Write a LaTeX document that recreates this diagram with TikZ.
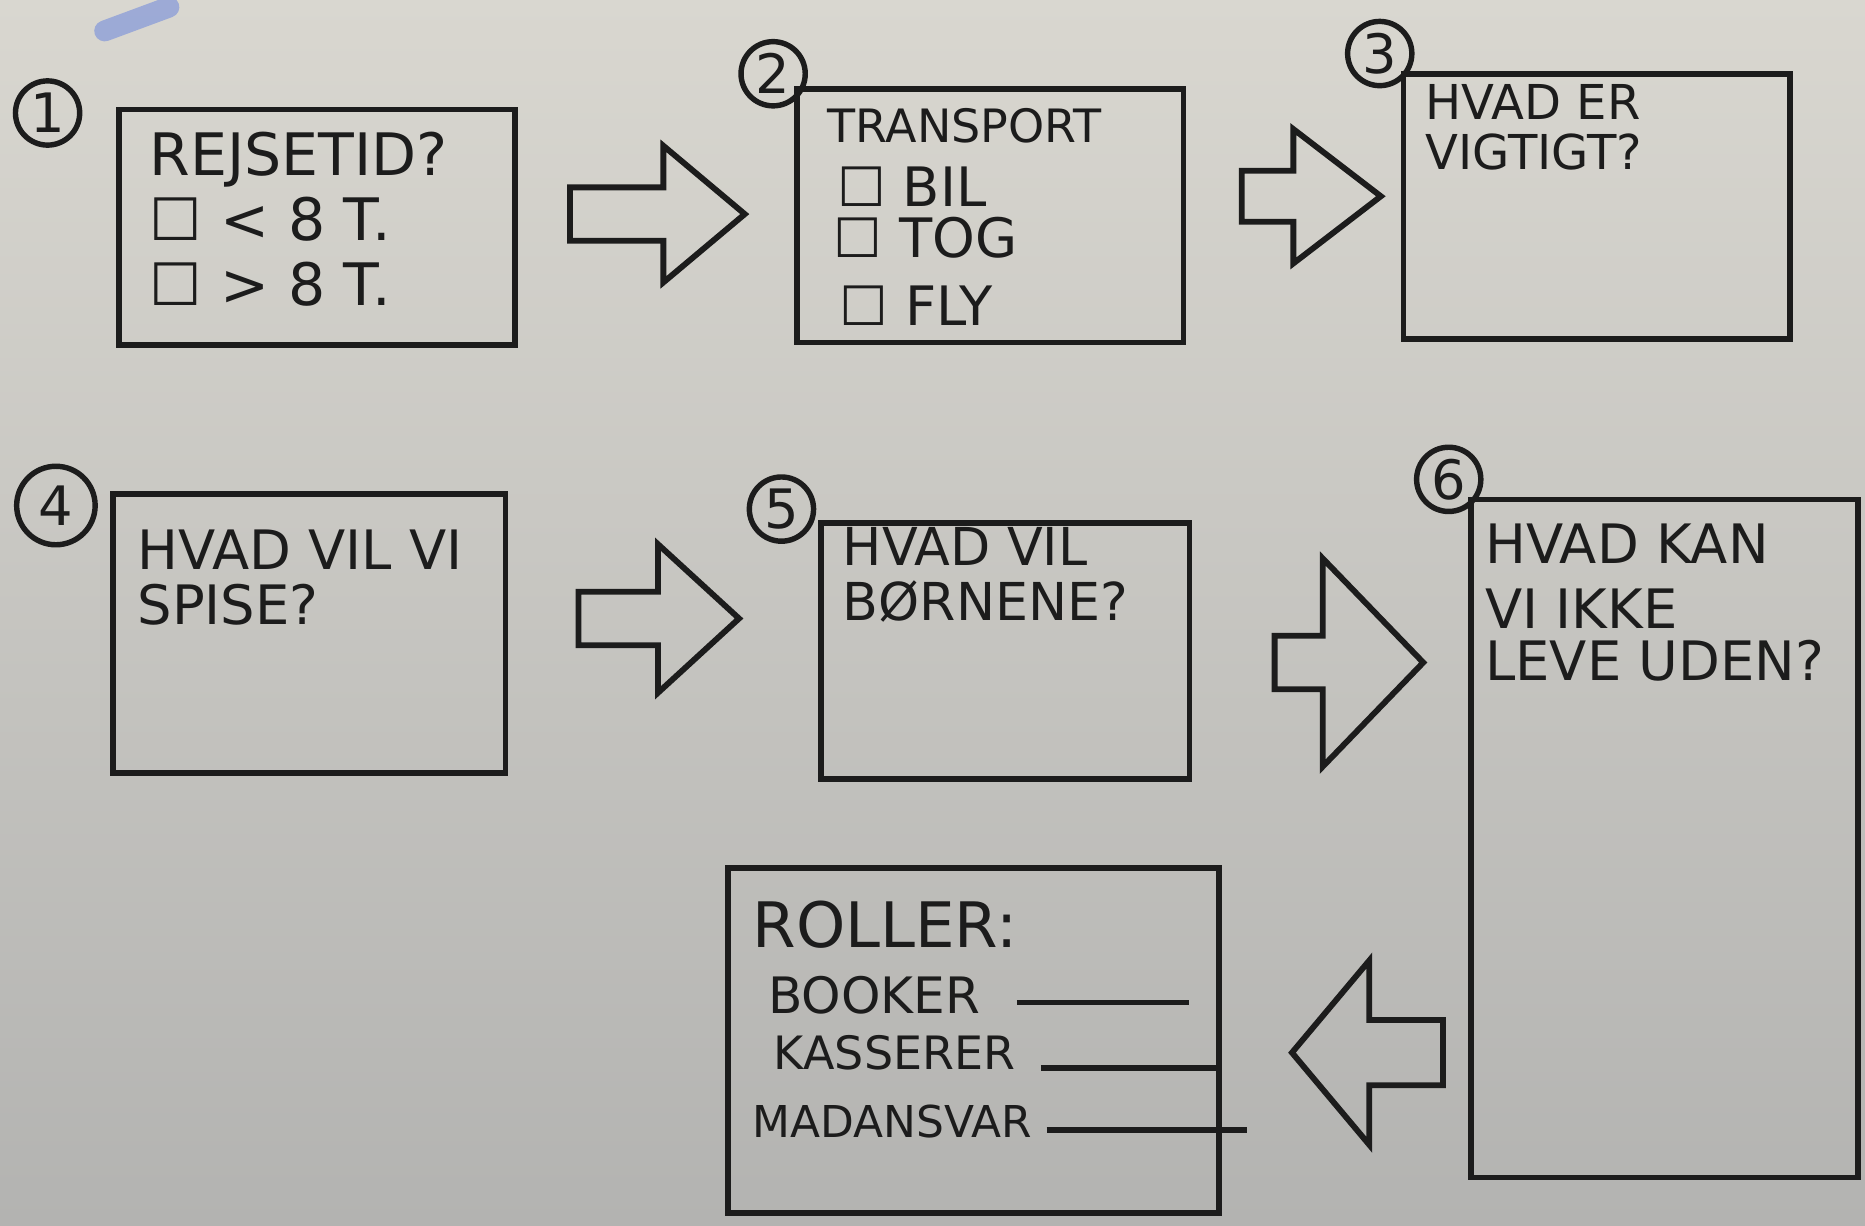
\documentclass[tikz,border=0pt]{standalone}
\usepackage{fontspec}
\setmainfont{DejaVu Sans}
\usetikzlibrary{shapes.arrows}
\definecolor{paper}{HTML}{D9D7D0}
\definecolor{paperlow}{HTML}{B3B3B1}
\definecolor{ink}{HTML}{1C1C1C}
\definecolor{marker}{HTML}{8E9FD8}

\begin{document}
\begin{tikzpicture}[
  screen/.style={rectangle,draw=ink,line width=1.4pt,inner sep=0pt},
  stepno/.style={circle,draw=ink,line width=1.3pt,inner sep=0pt,minimum size=5.4mm,text=ink,font=\fontsize{13}{13}\selectfont},
  fatarrow/.style={single arrow,draw=ink,line width=1.4pt,inner xsep=0pt,anchor=tip},
  ask/.style={anchor=north west,align=left,inner sep=0pt,text=ink},
  blank/.style={draw=ink,line width=1.3pt}]
\fill [top color=paper,bottom color=paperlow] (0,0) rectangle (15.68,-10.30);
\useasboundingbox (0,0) rectangle (15.68,-10.30);
\draw [marker,line width=5pt,line cap=round,opacity=0.8] (0.88,-0.26) -- (1.42,-0.06);
\node at ( 2.665, -1.91) (b1) [screen,minimum width=33.3mm,minimum height=19.8mm] {};
\node at ( 8.325, -1.815) (b2) [screen,minimum width=32.5mm,minimum height=21.3mm] {};
\node at (13.425, -1.735) (b3) [screen,minimum width=32.5mm,minimum height=22.3mm] {};
\node at ( 2.600, -5.325) (b4) [screen,minimum width=33mm,minimum height=23.5mm] {};
\node at ( 8.450, -5.475) (b5) [screen,minimum width=31mm,minimum height=21.5mm] {};
\node at (13.995, -7.050) (b6) [screen,minimum width=32.5mm,minimum height=57mm] {};
\node at ( 8.185, -8.750) (b7) [screen,minimum width=41.3mm,minimum height=29mm] {};
\node at ( 0.40, -0.95) (n1) [stepno] {1};
\node at ( 6.50, -0.62) (n2) [stepno] {2};
\node at (11.60, -0.45) (n3) [stepno] {3};
\node at ( 0.47, -4.25) (n4) [stepno,minimum size=6.6mm] {4};
\node at ( 6.57, -4.28) (n5) [stepno] {5};
\node at (12.18, -4.03) (n6) [stepno] {6};
\node at (1.25, -1.10) (t1) [ask,font=\fontsize{14}{15.6}\selectfont] {REJSETID?\\☐ < 8 T.\\☐ > 8 T.};
\node at (6.95, -0.90) (t2) [ask,font=\fontsize{11}{11}\selectfont] {TRANSPORT};
\node at (7.03, -1.40) (t2a) [ask,font=\fontsize{13}{13}\selectfont] {☐ BIL};
\node at (7.00, -1.82) (t2b) [ask,font=\fontsize{13}{13}\selectfont] {☐ TOG};
\node at (7.05, -2.40) (t2c) [ask,font=\fontsize{13}{13}\selectfont] {☐ FLY};
\node at (11.98, -0.70) (t3) [ask,font=\fontsize{11.5}{12}\selectfont] {HVAD ER\\VIGTIGT?};
\node at (1.15, -4.45) (t4) [ask,font=\fontsize{13}{13}\selectfont] {HVAD VIL VI\\SPISE?};
\node at (7.08, -4.43) (t5) [ask,font=\fontsize{12.5}{13}\selectfont] {HVAD VIL\\BØRNENE?};
\node at (12.48, -4.40) (t6) [ask,font=\fontsize{13}{12.5}\selectfont] {HVAD KAN\\[3pt]VI IKKE\\LEVE UDEN?};
\node at (6.32, -7.57) (t7) [ask,font=\fontsize{15}{15}\selectfont] {ROLLER:};
\node at (6.45, -8.20) (r1) [ask,font=\fontsize{12}{12}\selectfont] {BOOKER};
\node at (6.50, -8.70) (r2) [ask,font=\fontsize{11}{11}\selectfont] {KASSERER};
\node at (6.32, -9.28) (r3) [ask,font=\fontsize{10.5}{10.5}\selectfont] {MADANSVAR};
\draw [blank] (8.55, -8.43) -- (10.00, -8.43);
\draw [blank] (8.75, -8.98) -- (10.25, -8.98);
\draw [blank] (8.80, -9.50) -- (10.48, -9.50);
\node at ( 6.30, -1.80) (a12) [fatarrow,minimum height=14.7mm,inner ysep=2mm,single arrow head extend=3.5mm,single arrow tip angle=80] {};
\node at (11.65, -1.65) (a23) [fatarrow,minimum height=11.7mm,inner ysep=1.9mm,single arrow head extend=3.5mm,single arrow tip angle=75] {};
\node at ( 6.25, -5.20) (a45) [fatarrow,minimum height=13.5mm,inner ysep=2mm,single arrow head extend=4mm,single arrow tip angle=85] {};
\node at (12.00, -5.57) (a56) [fatarrow,minimum height=12.5mm,inner ysep=2mm,single arrow head extend=6.5mm,single arrow tip angle=92] {};
\node at (10.83, -8.85) (a67) [fatarrow,minimum height=12.7mm,inner ysep=2.5mm,single arrow head extend=5mm,single arrow tip angle=100,shape border rotate=180] {};
\end{tikzpicture}
\end{document}
